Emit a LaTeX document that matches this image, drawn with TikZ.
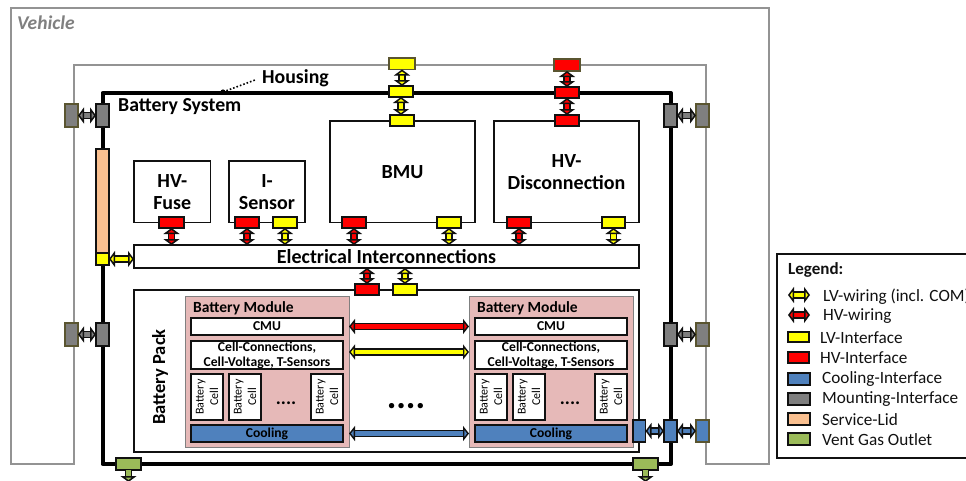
\documentclass[tikz,border=0pt]{standalone}
\usepackage{fontspec}
\setmainfont{Carlito}
\usetikzlibrary{arrows.meta}
\definecolor{lv}{HTML}{FFFF00}
\definecolor{hv}{HTML}{FF0000}
\definecolor{cool}{HTML}{4F81BD}
\definecolor{mount}{HTML}{7F7F7F}
\definecolor{lid}{HTML}{FAC090}
\definecolor{vent}{HTML}{9BBB59}
\definecolor{modfill}{HTML}{E6B9B8}
\definecolor{olive}{HTML}{5A5530}
\definecolor{ink}{HTML}{111111}
\tikzset{
  x=1pt,y=-1pt,
  box/.style={draw=ink,line width=1.5pt,fill=white,inner sep=0pt,outer sep=0pt,align=center,font=\bfseries\fontsize{20}{22}\selectfont},
  sub/.style={box,line width=1.9pt,font=\bfseries\fontsize{13.6}{14.8}\selectfont},
  cell/.style={box,line width=1.9pt},
  celltxt/.style={rotate=90,inner sep=0pt,align=center,font=\fontsize{12}{14.5}\selectfont},
  iface/.style={draw=ink,line width=1.6pt,fill=#1,inner sep=0pt,outer sep=0pt},
  outer/.style={draw=olive,line width=1.6pt,fill=#1,inner sep=0pt,outer sep=0pt},
  wire/.style={draw=ink,line width=1.5pt,double=#1,double distance=4.4pt,
    {Triangle[length=6pt,width=16pt,fill=#1,line width=1.5pt]}-{Triangle[length=6pt,width=16pt,fill=#1,line width=1.5pt]}},
  fwire/.style={draw=ink,line width=1.4pt,double=#1,double distance=4.8pt,
    {Triangle[length=6pt,width=15pt,fill=#1,line width=1.4pt]}-{Triangle[length=6pt,width=15pt,fill=#1,line width=1.4pt]}},
  lbl/.style={inner sep=0pt,font=\bfseries\fontsize{19.8}{22}\selectfont},
  leg/.style={inner sep=0pt,anchor=west,font=\fontsize{17.2}{20}\selectfont,text=ink},
}
% \bx{name}{style}{x1}{y1}{x2}{y2}{text}
\newcommand{\bx}[7]{%
  \pgfmathsetmacro{\cxa}{((#3)+(#5))/2}\pgfmathsetmacro{\cya}{((#4)+(#6))/2}%
  \pgfmathsetmacro{\wxa}{(#5)-(#3)}\pgfmathsetmacro{\hya}{(#6)-(#4)}%
  \node[#2,minimum width=\wxa pt,minimum height=\hya pt] (#1) at (\cxa,\cya) {#7};}
\begin{document}
\begin{tikzpicture}
\useasboundingbox (0,0) rectangle (966,480);
\clip (0,0) rectangle (966,480);
\fill[white] (0,0) rectangle (966,480);
% vehicle and housing outline
\draw[gray!85,line width=1.6pt] (74,464) -- (11,464) -- (11,8) -- (769,8) -- (769,464) -- (706,464) -- (706,65) -- (74,65) -- cycle;
\node[inner sep=0pt,anchor=west,text=gray,font=\bfseries\itshape\fontsize{19.5}{22}\selectfont] (vehicle) at (17,23) {Vehicle};
% battery system
\draw[black,line width=4pt,line join=round] (102.5,93) rectangle (671,464);
\node[lbl,anchor=west] (system) at (118,107) {Battery System};
\node[lbl,anchor=west] (housing) at (262,78) {Housing};
\coordinate (hpt) at (223,92);
\coordinate (hend) at (255,80);
\fill (hpt) circle (2.6pt);
\draw[black,line width=1.6pt,dotted] (hpt) -- (hend);
% boxes
\bx{fuse}{box}{134}{161}{210.5}{222.5}{HV-\\Fuse}
\bx{isens}{box}{229}{161}{305}{222.5}{I-\\Sensor}
\bx{bmu}{box}{330}{121}{475}{222.5}{BMU}
\bx{disc}{box}{494}{121}{639}{222.5}{HV-\\Disconnection}
\bx{elec}{box}{134}{245}{639}{268}{Electrical Interconnections}
\bx{pack}{box}{134}{290}{639}{452}{}
\node[inner sep=0pt,rotate=90,font=\bfseries\fontsize{18.5}{22}\selectfont] (packlbl) at (160,377) {Battery Pack};
% modules
\foreach \o/\n in {0/a,284/b}{
  \bx{mod\n}{draw=gray,line width=1pt,fill=modfill,inner sep=0pt,outer sep=0pt}{185+\o}{296}{349+\o}{447}{}
  \node[inner sep=0pt,font=\bfseries\fontsize{15.5}{18}\selectfont] (title\n) at (243.5+\o,308) {Battery Module};
  \bx{cmu\n}{sub}{191+\o}{318}{343+\o}{335}{CMU}
  \bx{conn\n}{sub}{191+\o}{341}{343+\o}{369}{Cell-Connections,\\Cell-Voltage, T-Sensors}
  \bx{cella\n}{cell}{191+\o}{374}{223+\o}{420}{}
  \bx{cellb\n}{cell}{229+\o}{374}{261+\o}{420}{}
  \bx{cellc\n}{cell}{311+\o}{374}{343+\o}{420}{}
  \foreach \c in {a,b,c}{
    \node[celltxt] at (cell\c\n) {Battery\\Cell};
  }
  \node[inner sep=0pt,font=\bfseries\fontsize{19}{20}\selectfont] (dots\n) at (286+\o,403) {....};
  \bx{cooling\n}{sub,fill=cool}{191+\o}{425}{343+\o}{442}{Cooling}
}
\node[inner sep=0pt,font=\bfseries\fontsize{36}{38}\selectfont] (middots) at (406,406) {....};
% service lid
\bx{lid}{iface=lid}{96}{149}{109}{253}{}
\bx{lidlv}{iface=lv}{96}{253}{109}{265}{}
% mounting
\bx{mla}{iface=mount}{96}{104}{109}{127}{}
\bx{mlb}{iface=mount}{96}{323}{109}{346}{}
\bx{mra}{iface=mount}{664}{104}{677}{127}{}
\bx{mrb}{iface=mount}{664}{323}{677}{346}{}
\bx{ola}{outer=mount}{65}{104}{78}{127}{}
\bx{olb}{outer=mount}{65}{323}{78}{346}{}
\bx{ora}{outer=mount}{696}{104}{709}{127}{}
\bx{orb}{outer=mount}{696}{323}{709}{346}{}
% cooling
\bx{cpack}{iface=cool}{633}{420}{645.5}{442}{}
\bx{chous}{iface=cool}{664}{420}{677}{442}{}
\bx{cout}{outer=cool}{696}{420}{709}{442}{}
% vent
\bx{venta}{iface=vent}{116}{458}{141}{470}{}
\bx{ventb}{iface=vent}{633}{458}{658}{470}{}
% top interfaces
\bx{tlo}{outer=lv}{389}{58}{415}{69.5}{}
\bx{tlh}{iface=lv}{389}{86}{413}{97}{}
\bx{tlb}{iface=lv}{390}{115}{414}{126}{}
\bx{tro}{outer=hv}{554}{59}{580}{71}{}
\bx{trh}{iface=hv}{555}{87}{579}{98}{}
\bx{trb}{iface=hv}{555}{115}{579}{126}{}
% lower interfaces
\bx{fr}{iface=hv}{159}{217}{184}{228}{}
\bx{ir}{iface=hv}{235}{217}{259}{228}{}
\bx{iy}{iface=lv}{273}{217}{297}{228}{}
\bx{br}{iface=hv}{342}{217}{366}{228}{}
\bx{by}{iface=lv}{437}{217}{461}{228}{}
\bx{dr}{iface=hv}{507}{217}{531}{228}{}
\bx{dy}{iface=lv}{602}{217}{625}{228}{}
\bx{pr}{iface=hv}{355}{284}{379}{295}{}
\bx{py}{iface=lv}{393}{284}{417}{295}{}
% wires
\draw[wire=lv] (tlo.south) -- (tlh.north -| tlo.south);
\draw[wire=lv] (tlh.south) -- (tlb.north -| tlh.south);
\draw[wire=hv] (tro.south) -- (trh.north);
\draw[wire=hv] (trh.south) -- (trb.north);
\foreach \a/\c in {fr/hv,ir/hv,iy/lv,br/hv,by/lv,dr/hv,dy/lv}
  \draw[wire=\c] (\a.south) -- (\a.south |- elec.north);
\draw[wire=hv] (pr.north |- elec.south) -- (pr.north);
\draw[wire=lv] (py.north |- elec.south) -- (py.north);
\draw[wire=lv] (lidlv.east) -- (elec.west |- lidlv.east);
\draw[wire=mount] (ola.east) -- (mla.west);
\draw[wire=mount] (olb.east) -- (mlb.west);
\draw[wire=mount] (mra.east) -- (ora.west);
\draw[wire=mount] (mrb.east) -- (orb.west);
\draw[wire=cool] (cpack.east) -- (chous.west);
\draw[wire=cool] (chous.east) -- (cout.west);
\coordinate (wy) at (349,352);
\draw[fwire=hv] (moda.east |- cmua) -- (modb.west |- cmua);
\draw[fwire=lv] (moda.east |- wy) -- (modb.west |- wy);
\draw[fwire=cool] (moda.east |- coolinga) -- (modb.west |- coolinga);
% vent arrows
\foreach \v in {venta,ventb}
  \draw[draw=ink,line width=1.5pt,double=vent,double distance=4.4pt,-{Triangle[length=6pt,width=16pt,fill=vent,line width=1.5pt]}] (\v.south) -- ++(0,12);
% legend
\bx{legend}{draw=ink,line width=1.6pt,fill=white}{777}{254}{1000}{458}{}
\node[leg,font=\bfseries\fontsize{17}{20}\selectfont] (legt) at (788,270) {Legend:};
\node[leg] (l1) at (823,296.5) {LV-wiring (incl. COM)};
\node[leg] (l2) at (823,316.5) {HV-wiring};
\node[leg] (l3) at (820,337.5) {LV-Interface};
\node[leg] (l4) at (820,357.5) {HV-Interface};
\node[leg] (l5) at (822,379) {Cooling-Interface};
\node[leg] (l6) at (822,399) {Mounting-Interface};
\node[leg] (l7) at (822,420) {Service-Lid};
\node[leg] (l8) at (822,440) {Vent Gas Outlet};
\coordinate (w1a) at (788,295); \coordinate (w1b) at (810,295);
\coordinate (w2a) at (788,315); \coordinate (w2b) at (810,315);
\draw[wire=lv] (w1a) -- (w1b);
\draw[wire=hv] (w2a) -- (w2b);
\bx{s3}{iface=lv}{788}{332}{809}{342}{}
\bx{s4}{iface=hv}{788}{352}{809}{363}{}
\bx{s5}{iface=cool}{788}{373}{810}{385}{}
\bx{s6}{iface=mount}{788}{393}{810}{405}{}
\bx{s7}{iface=lid}{788}{413}{810}{425}{}
\bx{s8}{iface=vent}{788}{433}{810}{445}{}
\end{tikzpicture}
\end{document}
